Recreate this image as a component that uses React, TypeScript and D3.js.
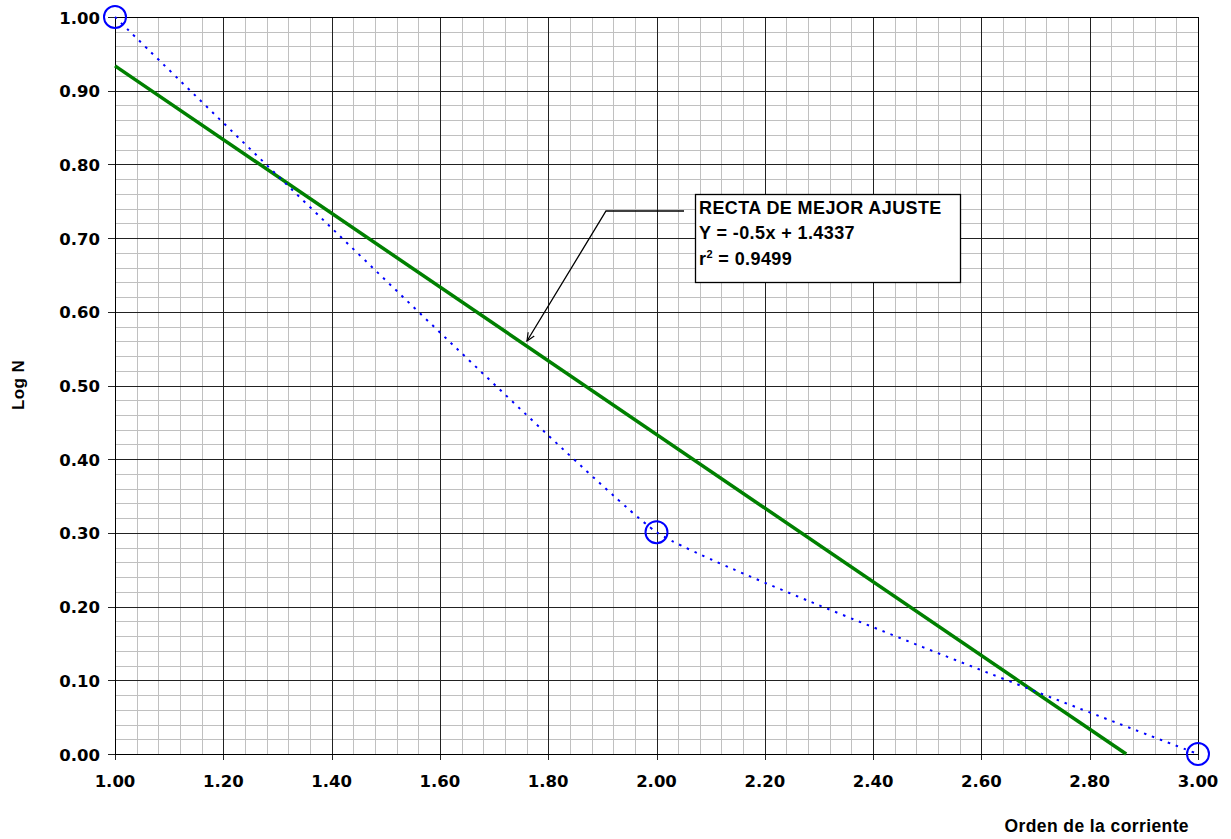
import React from "react";
import * as d3 from "d3";

const orderX = [1, 2, 3];
const logN = [1.0, 0.30103, 0.0];
const fitSlope = -0.5;
const fitIntercept = 1.4337;
const xTicks = [1.0, 1.2, 1.4, 1.6, 1.8, 2.0, 2.2, 2.4, 2.6, 2.8, 3.0];
const yTicks = [0, 0.1, 0.2, 0.3, 0.4, 0.5, 0.6, 0.7, 0.8, 0.9, 1.0];
const boxLines = ["RECTA DE MEJOR AJUSTE", "Y = -0.5x + 1.4337", "= 0.9499"];

const W = 1231, H = 839;
const L = 115, R = 1198, T = 17, B = 754;

export default function App() {
  const x = d3.scaleLinear().domain([1, 3]).range([L, R]);
  const y = d3.scaleLinear().domain([0, 1]).range([B, T]);
  const xMinor = d3.range(1, 3.0001, 0.04);
  const yMinor = d3.range(0, 1.0001, 0.02);
  const pts: [number, number][] = orderX.map((v, i) => [x(v), y(logN[i])]);
  const curve = d3.line().curve(d3.curveCardinal.tension(0.7))(pts) as string;
  const xEnd = -fitIntercept / fitSlope;
  const fit = d3.line()([
    [x(1), y(fitSlope * 1 + fitIntercept)],
    [x(xEnd), y(0)],
  ]) as string;
  const snap = (v: number) => Math.round(v) + 0.5;
  const tickFont = { fontFamily: "DejaVu Sans", fontWeight: 700, fontSize: 16.5 } as const;
  const arialB = { fontFamily: "Liberation Sans, Arial", fontWeight: 700, letterSpacing: 0.4 } as const;
  return (
    <svg width={W} height={H} style={{ position: "absolute", left: 0, top: 0, background: "#fff" }}>
      <defs>
        <marker id="ah" viewBox="0 0 10 10" refX="9" refY="5" markerWidth="9" markerHeight="9" orient="auto-start-reverse" markerUnits="userSpaceOnUse">
          <path d="M0,1 L9,5 L0,9" fill="none" stroke="#000" strokeWidth={1.3} />
        </marker>
      </defs>
      <rect x={0} y={0} width={W} height={H} fill="#fff" />
      {xMinor.map((v, i) => (
        <line key={"xm" + i} x1={snap(x(v))} x2={snap(x(v))} y1={T} y2={B} stroke="#c0c0c0" strokeWidth={1} />
      ))}
      {yMinor.map((v, i) => (
        <line key={"ym" + i} x1={L} x2={R} y1={snap(y(v))} y2={snap(y(v))} stroke="#c0c0c0" strokeWidth={1} />
      ))}
      {xTicks.map((v, i) => (
        <line key={"xM" + i} x1={snap(x(v))} x2={snap(x(v))} y1={T} y2={B + 6} stroke="#222" strokeWidth={1} />
      ))}
      {yTicks.map((v, i) => (
        <line key={"yM" + i} x1={L - 7} x2={R} y1={snap(y(v))} y2={snap(y(v))} stroke="#222" strokeWidth={1} />
      ))}
      <rect x={snap(L)} y={snap(T)} width={Math.round(R - L)} height={Math.round(B - T)} fill="none" stroke="#000" strokeWidth={1} />
      {yTicks.map((v, i) => (
        <text key={"yl" + i} x={100} y={y(v) + 6.5} textAnchor="end" style={tickFont} fill="#000">
          {v.toFixed(2)}
        </text>
      ))}
      {xTicks.map((v, i) => (
        <text key={"xl" + i} x={x(v)} y={787} textAnchor="middle" style={tickFont} fill="#000">
          {v.toFixed(2)}
        </text>
      ))}
      <path d={fit} stroke="#008000" strokeWidth={3.5} fill="none" />
      <path d={curve} stroke="#0000ff" strokeWidth={2} strokeDasharray="2.5,6" fill="none" />
      {pts.map((p, i) => (
        <circle key={"c" + i} cx={p[0]} cy={p[1]} r={11} fill="none" stroke="#0000ff" strokeWidth={2} />
      ))}
      <polyline points="684,211 606,211 527,341" fill="none" stroke="#000" strokeWidth={1.3} markerEnd="url(#ah)" />
      <rect x={695.5} y={194.5} width={265} height={88} fill="#fff" stroke="#000" strokeWidth={1.3} />
      <text x={699} y={214} style={{ ...arialB, fontSize: 18 }}>{boxLines[0]}</text>
      <text x={699} y={239} style={{ ...arialB, fontSize: 18 }}>{boxLines[1]}</text>
      <text x={699} y={265} style={{ ...arialB, fontSize: 18 }}>
        r<tspan dy={-7} style={{ fontSize: 11 }}>2</tspan>
        <tspan dy={7}> {boxLines[2]}</tspan>
      </text>
      <text x={1189} y={832} textAnchor="end" style={{ ...arialB, fontSize: 17.5 }}>Orden de la corriente</text>
      <text transform={`translate(24,385) rotate(-90)`} textAnchor="middle" style={{ ...arialB, fontSize: 17 }}>Log N</text>
    </svg>
  );
}
